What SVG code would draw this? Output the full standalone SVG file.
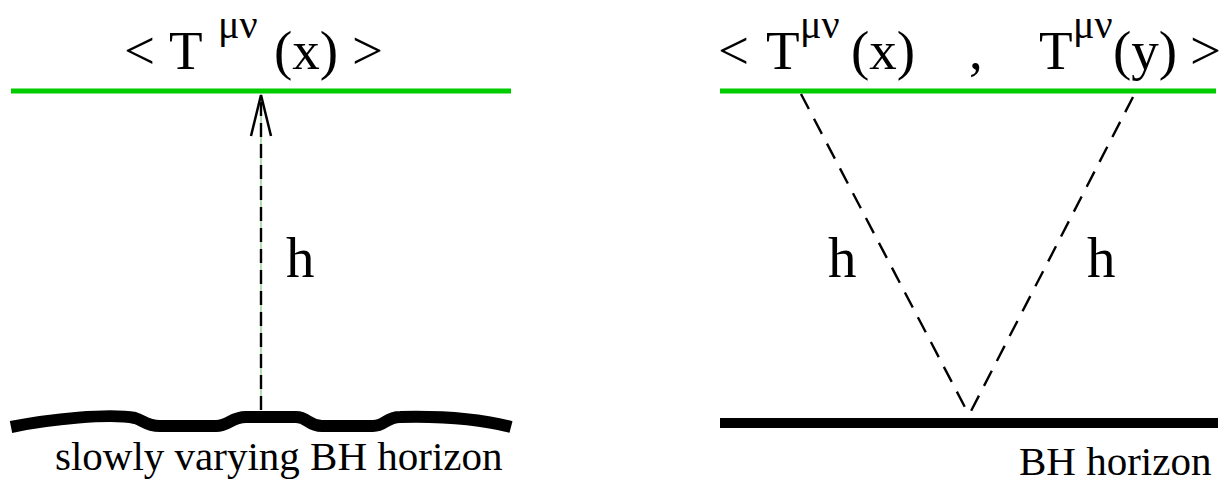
<svg xmlns="http://www.w3.org/2000/svg" width="1227" height="484" viewBox="0 0 1227 484">
<style>
text{font-family:'Liberation Serif','Times New Roman',Times,'DejaVu Serif',serif;fill:#000}
.big{font-size:55px}
.sup{font-size:40px}
.lab{font-size:57px}
.cap{font-size:41px}
.green{stroke:#00cc00;stroke-width:5;fill:none}
.dash{stroke:#000;stroke-width:2.4;fill:none;stroke-dasharray:17 11}
.vdash{stroke:#000;stroke-width:2.4;fill:none;stroke-dasharray:14 7}
</style>
<rect width="1227" height="484" fill="#fff"/>
<g id="left-top">
<line class="green" x1="11" y1="91" x2="511" y2="91"/>
<text class="big" x="124" y="69">&lt;</text>
<text class="big" x="169" y="69">T</text>
<text class="sup" x="218" y="38">μν</text>
<text class="big" x="274" y="69">(x)</text>
<text class="big" x="352" y="69">&gt;</text>
</g>
<g id="left-horizon">
<path d="M11,427 C50,419 110,413 135,418 C143,420 146,426 160,426 L216,426 C229,426 231,417 246,417 L296,417 C308,417 308,426 322,426 L373,426 C385,426 386,417 400,417 C440,416 480,419 511,427" stroke="#000" stroke-width="12" fill="none"/>
<text class="cap" x="55" y="470">slowly varying BH horizon</text>
</g>
<g id="right-top">
<line class="green" x1="720" y1="91" x2="1216" y2="91"/>
<text class="big" x="718" y="69">&lt;</text>
<text class="big" x="766" y="69">T</text>
<text class="sup" x="800" y="38">μν</text>
<text class="big" x="851" y="69">(x)</text>
<text class="big" x="969" y="69">,</text>
<text class="big" x="1039" y="69">T</text>
<text class="sup" x="1073" y="38">μν</text>
<text class="big" x="1113" y="69">(y)</text>
<text class="big" x="1190" y="69">&gt;</text>
</g>
<g id="right-horizon">
<line x1="720" y1="423" x2="1218" y2="423" stroke="#000" stroke-width="10"/>
<text class="cap" x="1019" y="475">BH horizon</text>
</g>
<g id="connectors">
<line x1="261" y1="95" x2="261" y2="410" stroke="#66bb66" stroke-width="1"/>
<line class="vdash" x1="261" y1="410" x2="261" y2="96"/>
<polyline points="251,136 261,95 271,136" stroke="#000" stroke-width="2.5" fill="none"/>
<line class="dash" x1="801" y1="94" x2="968" y2="413"/>
<line class="dash" x1="1133" y1="97" x2="970" y2="413"/>
</g>
<g id="labels">
<text class="lab" x="286" y="277">h</text>
<text class="lab" x="828" y="277">h</text>
<text class="lab" x="1087" y="277">h</text>
</g>
</svg>
